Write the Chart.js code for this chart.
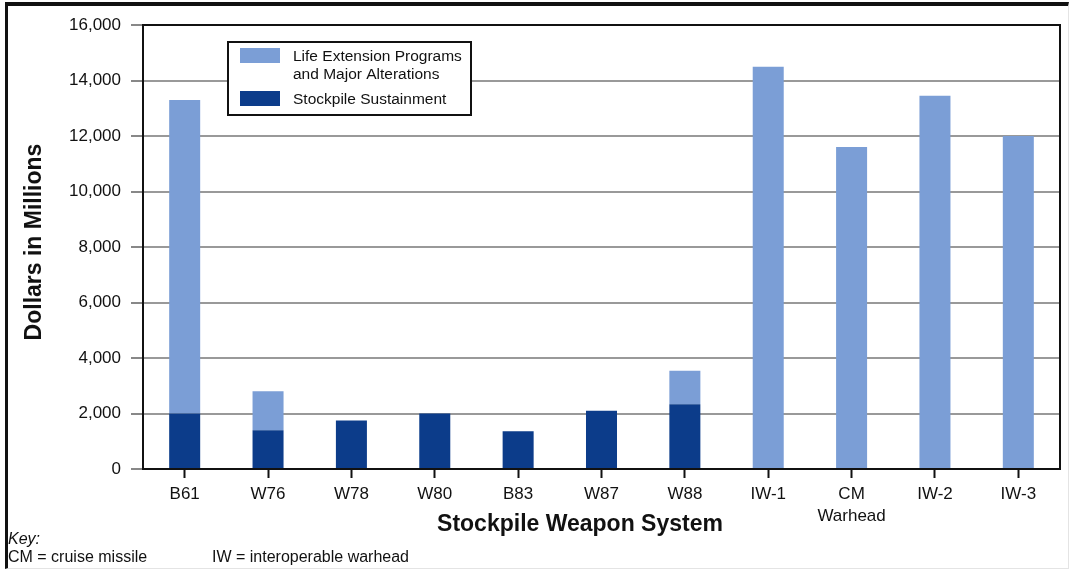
<!DOCTYPE html>
<html lang="en">
<head>
    <meta charset="UTF-8">
    <title>Stockpile Weapon System Costs</title>
    <script src="https://cdn.jsdelivr.net/npm/chart.js"></script>
    <style>
        body { margin: 0; background: #fff; font-family: "Liberation Sans", Arial, sans-serif; }
        .wrap { position: relative; width: 1070px; height: 569px; overflow: hidden; }
        .frame { position: absolute; left: 5px; top: 2px; width: 1060px; height: 562px; border-top: 4px solid #111; border-left: 3px solid #111; border-right: 1px solid #e4e4e4; border-bottom: 1px solid #e4e4e4; }
        canvas { position: absolute; left: 0; top: 0; }
        .ytitle { position: absolute; left: 33px; top: 242px; transform: translate(-50%, -50%) rotate(-90deg); font-weight: bold; font-size: 23px; white-space: nowrap; color: #111; }
        .xtitle { position: absolute; left: 580px; top: 523px; transform: translate(-50%, -50%); font-weight: bold; font-size: 23px; white-space: nowrap; color: #111; }
        .key { position: absolute; left: 8px; font-size: 16px; color: #111; white-space: nowrap; }
    </style>
</head>
<body>
    <div class="wrap">
        <div class="frame"></div>
        <canvas id="costChart" width="1070" height="569"></canvas>
        <div class="ytitle">Dollars in Millions</div>
        <div class="xtitle">Stockpile Weapon System</div>
        <div class="key" style="top: 530px; font-style: italic;">Key:</div>
        <div class="key" style="top: 548px;">CM = cruise missile</div>
        <div class="key" style="top: 548px; left: 212px;">IW = interoperable warhead</div>
    </div>

    <script>
        const categories = ['B61', 'W76', 'W78', 'W80', 'B83', 'W87', 'W88', 'IW-1', ['CM', 'Warhead'], 'IW-2', 'IW-3'];
        const sustainment = [2000, 1400, 1750, 2000, 1360, 2100, 2330, 0, 0, 0, 0];
        const lifeExtension = [11300, 1400, 0, 0, 0, 0, 1210, 14500, 11600, 13450, 12000];
        const seriesLabels = [['Life Extension Programs', 'and Major Alterations'], ['Stockpile Sustainment']];

        const lightBlue = '#7b9ed6';
        const darkBlue = '#0c3c8a';

        // box around the plot + legend inside it
        const framePlugin = {
            id: 'framePlugin',
            afterDraw(chart) {
                const ctx = chart.ctx;
                const a = chart.chartArea;
                ctx.save();
                ctx.strokeStyle = '#111';
                ctx.lineWidth = 2;
                ctx.strokeRect(a.left, a.top, a.right - a.left, a.bottom - a.top);

                // legend box
                const bx = 228, by = 42, bw = 243, bh = 73;
                ctx.fillStyle = '#fff';
                ctx.fillRect(bx, by, bw, bh);
                ctx.strokeRect(bx, by, bw, bh);
                const ds = chart.data.datasets;
                const rows = [
                    { color: ds[1].backgroundColor, lines: seriesLabels[0], y: 48 },
                    { color: ds[0].backgroundColor, lines: seriesLabels[1], y: 91 }
                ];
                ctx.font = '15.5px "Liberation Sans", Arial, sans-serif';
                ctx.textBaseline = 'middle';
                rows.forEach(r => {
                    ctx.fillStyle = r.color;
                    ctx.fillRect(240, r.y, 40, 15);
                    ctx.fillStyle = '#111';
                    r.lines.forEach((t, i) => ctx.fillText(t, 293, r.y + 9 + i * 18));
                });
                ctx.restore();
            }
        };

        const ctx = document.getElementById('costChart').getContext('2d');
        new Chart(ctx, {
            type: 'bar',
            data: {
                labels: categories,
                datasets: [
                    { label: 'Stockpile Sustainment', data: sustainment, backgroundColor: darkBlue, barPercentage: 0.372, categoryPercentage: 1 },
                    { label: 'Life Extension Programs and Major Alterations', data: lifeExtension, backgroundColor: lightBlue, barPercentage: 0.372, categoryPercentage: 1 }
                ]
            },
            options: {
                responsive: false,
                animation: false,
                layout: { padding: { left: 0, top: 25, right: 10, bottom: 0 } },
                plugins: {
                    legend: { display: false },
                    tooltip: { enabled: false }
                },
                scales: {
                    x: {
                        stacked: true,
                        afterFit: s => { s.height = 100; },
                        grid: { offset: false, drawOnChartArea: false, drawTicks: true, tickLength: 9, tickWidth: 2, tickColor: '#111' },
                        border: { color: '#111', width: 2 },
                        ticks: {
                            color: '#111',
                            padding: 5,
                            maxRotation: 0,
                            autoSkip: false,
                            font: { family: '"Liberation Sans", Arial, sans-serif', size: 17, lineHeight: 1.3 }
                        }
                    },
                    y: {
                        stacked: true,
                        min: 0,
                        max: 16000,
                        afterFit: s => { s.width = 143; },
                        grid: { color: '#999', lineWidth: 2, tickLength: 12, tickColor: '#888' },
                        border: { color: '#111', width: 2 },
                        ticks: {
                            stepSize: 2000,
                            color: '#111',
                            padding: 10,
                            font: { family: '"Liberation Sans", Arial, sans-serif', size: 17 },
                            callback: v => v.toLocaleString('en-US')
                        }
                    }
                }
            },
            plugins: [framePlugin]
        });
    </script>
</body>
</html>
